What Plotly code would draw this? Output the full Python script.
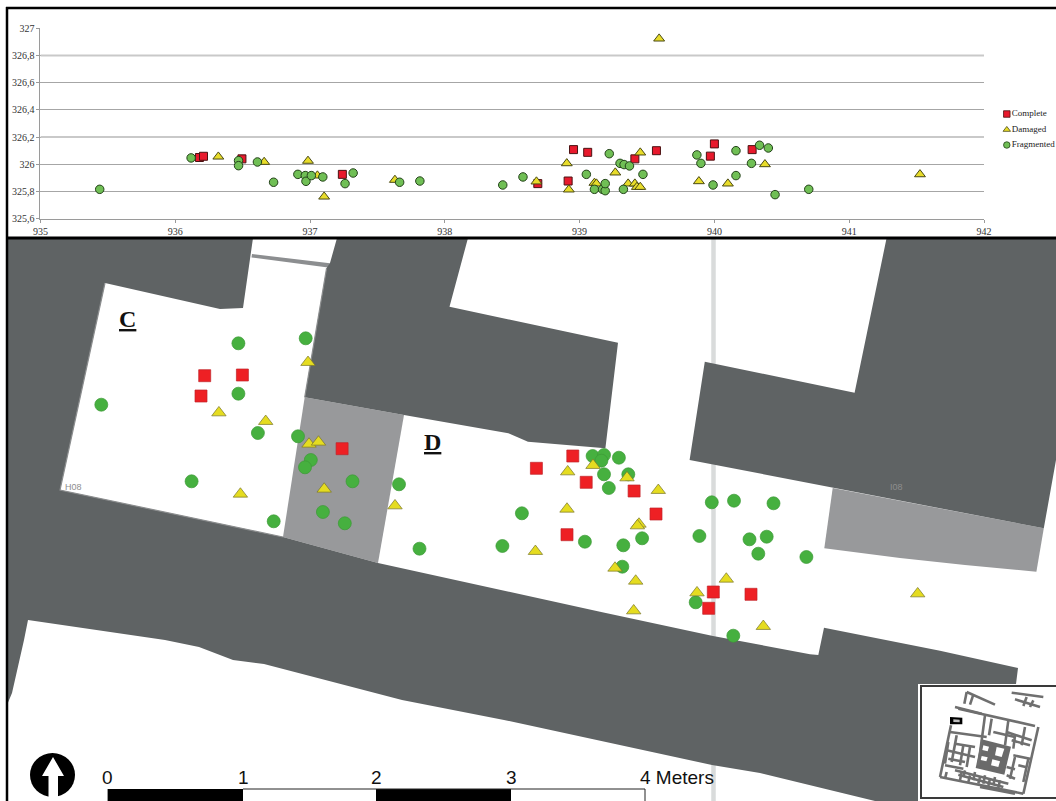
import plotly.graph_objects as go

W, H = 1056, 801

# ---------- elevation chart values ----------
complete_e = [936.18, 936.21, 936.495, 937.24, 938.69, 938.955, 939.06, 938.915, 939.41, 939.57, 939.97, 940.0, 940.28]
complete_z = [326.05, 326.059, 326.04, 325.926, 325.858, 326.108, 326.088, 325.877, 326.04, 326.10, 326.06, 326.15, 326.108]
damaged_e = [936.32, 936.66, 936.985, 937.055, 937.105, 937.63, 939.59, 938.68, 938.905, 938.92, 939.11, 939.125,
             939.265, 939.36, 939.41, 939.425, 939.45, 939.45, 939.885, 940.1, 940.375, 941.525]
damaged_z = [326.056, 326.017, 326.025, 325.917, 325.762, 325.885, 326.924, 325.873, 326.007, 325.814, 325.863, 325.858,
             325.939, 325.858, 325.858, 325.833, 325.833, 326.086, 325.875, 325.858, 326.0, 325.926]
fragmented_e = [935.44, 936.118, 936.47, 936.47, 936.61, 936.73, 936.91, 936.965, 936.97, 937.01, 937.095, 937.26,
                937.32, 937.665, 937.815, 938.43, 938.58, 939.05, 939.11, 939.17, 939.19, 939.19, 939.22, 939.30,
                939.33, 939.37, 939.325, 939.47, 939.87, 939.90, 939.99, 940.16, 940.16, 940.275, 940.335, 940.40,
                940.45, 940.70]
fragmented_z = [325.816, 326.047, 326.027, 325.99, 326.017, 325.868, 325.926, 325.917, 325.875, 325.917, 325.907, 325.858,
                325.936, 325.868, 325.877, 325.848, 325.907, 325.926, 325.816, 325.816, 325.806, 325.858, 326.078, 326.007,
                325.998, 325.988, 325.816, 325.926, 326.069, 326.007, 325.848, 326.10, 325.917, 326.007, 326.14, 326.12,
                325.777, 325.816]

x_ticks = [935, 936, 937, 938, 939, 940, 941, 942]
y_ticks = [325.6, 325.8, 326, 326.2, 326.4, 326.6, 326.8, 327]
y_tick_labels = ["325,6", "325,8", "326", "326,2", "326,4", "326,6", "326,8", "327"]
soft_grid = [326.2, 326.8]

# ---------- plan view values (map units) ----------
complete_mx = [204.7, 242.4, 201, 342.1, 536.4, 572.8, 586.2, 634.1, 656, 567, 713.3, 708.7, 751]
complete_my = [375.7, 375, 396, 448.7, 468.3, 456, 482.3, 491, 514, 534.7, 592, 608.3, 594.3]
damaged_mx = [308, 218.9, 265.7, 309, 318.5, 324.2, 240.4, 395, 567.7, 593, 627, 658.3, 567, 639, 637.4, 535.4,
              615, 635.7, 633.7, 697, 726.3, 763.3, 917.7]
damaged_my = [362.3, 412.7, 421.3, 444, 442, 489, 494, 505.7, 471.7, 465.3, 477.7, 490.3, 509, 524, 525.7, 551.3,
              568, 581, 610.7, 592.7, 579, 626.3, 593.7]
fragmented_mx = [101.3, 238.4, 305.7, 238.4, 257.9, 298, 310.8, 305, 352.5, 191.6, 273.7, 322.9, 344.8, 399, 419.5,
                 502.4, 521.9, 592.6, 604, 601.4, 618.9, 604, 628.3, 608.8, 584.9, 623.3, 642.1, 622.3, 711.8, 734,
                 773.5, 699.4, 749.5, 766.7, 758.3, 806.4, 695.7, 733.3]
fragmented_my = [404.7, 343.3, 338.3, 393.7, 433, 436.3, 460, 467.3, 481.3, 481.3, 521.3, 512, 523.3, 484.3, 548.7,
                 546, 513.3, 456, 455, 460.7, 457.7, 474.3, 474.3, 488, 541.7, 545.3, 538.3, 566.7, 502.3, 500.7,
                 503.3, 536, 539.3, 536.7, 553.7, 557, 602.3, 635.7]

scale_labels = ["0", "1", "2", "3", "4 Meters"]

# ---------- plan geometry ----------
DARK, ROOM = "#5f6364", "#98999b"
walls_west = [(7, 238), (253, 238), (243, 308), (220, 309), (105, 283), (60, 490), (283, 537), (378, 563), (600, 611.7),
              (713, 636), (810, 654.3), (818.3, 655), (824, 627.7), (940, 650.7), (1018, 668), (1016, 684), (918, 684),
              (918, 801), (875, 801), (760, 773), (712, 765), (504, 720), (402, 700), (264, 664), (233, 660), (199, 647),
              (165, 640), (28, 620), (24, 640), (12, 693), (7, 705)]
walls_mid = [(337, 238), (468, 238), (449.5, 306.7), (618, 342.7), (605.4, 448.3), (528, 441.7), (508.4, 433.3),
             (404, 415), (304.7, 397.3), (326.6, 268), (330, 263)]
walls_east = [(886.6, 238), (1056, 238), (1056, 460), (1043.8, 528.3), (689.6, 460), (704.8, 361.7), (854.6, 392.7)]
room_mid = [(304.7, 397.3), (404, 415), (378, 563), (283, 537)]
room_east = [(832.7, 488), (1043.8, 528.3), (1036.4, 571.7), (965, 565), (900, 558), (824.3, 548.3)]
strip = [(252, 254), (330, 263.3), (328, 267.5), (251.5, 257.5)]

# key-plan wall lines, in pixels of the key-plan crop
key_walls = [
    [(130, 80), (360, 132)], [(108, 130), (75, 285)], [(75, 285), (325, 335)], [(325, 335), (370, 135)],
    [(105, 150), (215, 165)], [(125, 160), (110, 240)], [(210, 100), (190, 250)], [(230, 110), (222, 160)],
    [(275, 150), (350, 175)], [(280, 115), (270, 190)], [(330, 135), (320, 190)], [(95, 205), (180, 225)],
    [(145, 190), (135, 250)], [(165, 195), (155, 255)], [(90, 250), (145, 260)], [(120, 265), (280, 305)],
    [(130, 278), (265, 315)], [(150, 265), (145, 285)], [(180, 270), (175, 295)], [(210, 280), (205, 305)],
    [(240, 285), (235, 310)], [(295, 220), (345, 230)], [(300, 225), (285, 290)], [(340, 230), (325, 300)],
    [(275, 255), (300, 262)], [(275, 280), (300, 290)], [(155, 30), (148, 65)], [(155, 30), (240, 68)],
    [(175, 38), (165, 68)], [(290, 32), (385, 45)], [(300, 52), (375, 75)], [(335, 45), (325, 72)],
    [(355, 55), (345, 75)], [(95, 270), (90, 290)], [(195, 315), (300, 335)], [(100, 180), (90, 245)],
    [(235, 150), (300, 165)], [(300, 160), (295, 200)], [(120, 185), (180, 195)], [(100, 230), (150, 240)],
    [(165, 280), (160, 300)], [(195, 285), (190, 305)], [(225, 290), (220, 312)], [(255, 295), (250, 318)],
    [(290, 175), (345, 190)], [(310, 250), (335, 256)], [(120, 75), (200, 95)], [(140, 270), (135, 295)],
]
key_block = [(200, 172), (288, 194), (268, 278), (182, 258)]
key_rooms = [[(205, 190), (222, 194), (218, 208), (202, 204)], [(245, 195), (268, 200), (260, 225), (240, 220)],
             [(200, 222), (218, 226), (214, 238), (197, 234)], [(232, 232), (255, 238), (250, 255), (228, 250)]]
key_mark = [(105, 105), (142, 107), (142, 127), (105, 127)]


def poly(points):
    return "M " + " L ".join(f"{a},{b}" for a, b in points) + " Z"


def line(points):
    return "M " + " L ".join(f"{a},{b}" for a, b in points)


def key(points):
    return [(915 + a / 3, 682 + b / 3) for a, b in points]


def shape(path, fill=None, color=None, width=0):
    return dict(type="path", path=path, xref="x2", yref="y2", layer="below",
                fillcolor=fill or "rgba(0,0,0,0)",
                line=dict(color=color or "rgba(0,0,0,0)", width=width))


shapes = [
    shape(line([(713.5, 238), (713.5, 801)]), color="#d9dbdb", width=4.5),
    shape(poly(room_mid), fill=ROOM),
    shape(poly(room_east), fill=ROOM),
    shape(poly(strip), fill="#8c8e90"),
    shape(poly(walls_west), fill=DARK),
    shape(poly(walls_mid), fill=DARK),
    shape(poly(walls_east), fill=DARK),
    shape(line([(105, 283), (60, 490), (283, 537)]), color="#8b8d8e", width=1.2),
    shape(line([(326.6, 268), (304.7, 397.3)]), color="#8b8d8e", width=1.2),
    # scale bar
    shape(poly([(107.6, 789), (243, 789), (243, 801), (107.6, 801)]), fill="#000000"),
    shape(poly([(376, 789), (511, 789), (511, 801), (376, 801)]), fill="#000000"),
    shape(line([(243, 789), (645, 789), (645, 801)]), color="#222222", width=1),
    # north arrow
    dict(type="circle", xref="x2", yref="y2", layer="below", x0=30, x1=75, y0=753, y1=797,
         fillcolor="#000000", line=dict(width=0)),
    shape(poly([(53, 757), (64, 776), (58, 776), (58, 798), (48.5, 798), (48.5, 776), (42, 776)]), fill="#ffffff"),
    # key plan
    shape(poly([(918, 684), (1056, 684), (1056, 801), (918, 801)]), fill="#ffffff"),
    shape(line([(1056, 686), (921, 686), (921, 798), (1056, 798)]), color="#3a3a3a", width=2),
    shape(poly(key(key_block)), fill="#6a6a6a"),
]
shapes += [shape(poly(key(r)), fill="#ffffff") for r in key_rooms]
shapes += [shape(line(key(w)), color="#6f6f6f", width=2.6) for w in key_walls]
shapes += [
    shape(poly(key(key_mark)), fill="#000000"),
    shape(poly(key([(115, 112), (134, 113), (134, 121), (115, 120)])), fill="#bdbdbd"),
    # black frames
    shape(line([(6, 8), (1056, 8)]), color="#000000", width=2.5),
    shape(line([(6, 238), (1056, 238)]), color="#000000", width=3),
    shape(line([(7, 7), (7, 801)]), color="#000000", width=2.5),
]
for level in soft_grid:
    shapes.append(dict(type="line", xref="x", yref="y", x0=x_ticks[0], x1=x_ticks[-1], y0=level, y1=level,
                       layer="above", line=dict(color="#c9c9c9", width=2)))

fig = go.Figure()

top_series = [
    ("Complete", complete_e, complete_z, "square", "#e8192c", 8, "#4a1212"),
    ("Damaged", damaged_e, damaged_z, "triangle-up", "#e8dc2a", 9.5, "#4a4a14"),
    ("Fragmented", fragmented_e, fragmented_z, "circle", "#70bf55", 8.5, "#24421a"),
]
for name, xs, ys, sym, col, size, edge in top_series:
    fig.add_trace(go.Scatter(x=xs, y=ys, mode="markers", name=name, showlegend=False, xaxis="x", yaxis="y",
                             marker=dict(symbol=sym, color=col, size=size, line=dict(color=edge, width=1))))

map_series = [
    ("Fragmented", fragmented_mx, fragmented_my, "circle", "#46b03f", 13, "#3c9a37"),
    ("Complete", complete_mx, complete_my, "square", "#ee2024", 12, "#c0242a"),
    ("Damaged", damaged_mx, damaged_my, "triangle-up", "#e5dc20", 12.5, "#77742a"),
]
for name, xs, ys, sym, col, size, edge in map_series:
    fig.add_trace(go.Scatter(x=xs, y=ys, mode="markers", name=name, showlegend=False, xaxis="x2", yaxis="y2",
                             marker=dict(symbol=sym, color=col, size=size, line=dict(color=edge, width=0.7))))

# key of the chart
for (name, _, _, sym, col, _, edge), ky in zip(top_series, [114, 129.7, 145]):
    fig.add_trace(go.Scatter(x=[1006.8], y=[ky], mode="markers+text", text=[name], textposition="middle right",
                             textfont=dict(family="Liberation Serif", size=9, color="#222222"),
                             name=name, showlegend=False, xaxis="x2", yaxis="y2", cliponaxis=False,
                             marker=dict(symbol=sym, color=col, size=6.5, line=dict(color=edge, width=0.8))))

annotations = [
    dict(x=127, y=319, text="<b><u>C</u></b>", font=dict(family="Liberation Serif", size=24, color="#111111")),
    dict(x=432.7, y=442, text="<b><u>D</u></b>", font=dict(family="Liberation Serif", size=24, color="#111111")),
    dict(x=73, y=486.5, text="H08", font=dict(family="Liberation Sans", size=9, color="#8e8e8e")),
    dict(x=896, y=486.5, text="I08", font=dict(family="Liberation Sans", size=9, color="#8e8e8e")),
]
for label, sx in zip(scale_labels, [107.6, 243, 376, 511, 677]):
    annotations.append(dict(x=sx, y=777, text=label, font=dict(family="Liberation Sans", size=19, color="#111111")))
for a in annotations:
    a.update(xref="x2", yref="y2", showarrow=False, xanchor="center", yanchor="middle")

tick_font = dict(family="Liberation Serif", size=10, color="#333333")
fig.update_layout(
    template="none",
    width=W, height=H, autosize=False, margin=dict(l=0, r=0, t=0, b=0, pad=0, autoexpand=False),
    paper_bgcolor="#ffffff", plot_bgcolor="rgba(0,0,0,0)", showlegend=False,
    shapes=shapes, annotations=annotations,
    xaxis=dict(domain=[40.4 / W, 984 / W], range=[935, 942], tickvals=x_ticks, ticktext=[str(v) for v in x_ticks],
               automargin=False, showgrid=False, zeroline=False, showline=True, linecolor="#9a9a9a", linewidth=1,
               ticks="outside", ticklen=3, tickcolor="#9a9a9a", tickfont=tick_font, anchor="y"),
    yaxis=dict(domain=[1 - 218.7 / H, 1 - 28.3 / H], range=[325.6, 327], tickvals=y_ticks, ticktext=y_tick_labels,
               automargin=False, showgrid=True, gridcolor="#a6a6a6", gridwidth=1, zeroline=False, showline=True,
               linecolor="#9a9a9a", linewidth=1, ticks="outside", ticklen=3, tickcolor="#9a9a9a",
               tickfont=tick_font, anchor="x"),
    xaxis2=dict(domain=[0, 1], range=[0, W], visible=False, automargin=False, anchor="y2"),
    yaxis2=dict(domain=[0, 1], range=[H, 0], visible=False, automargin=False, anchor="x2"),
)

fig.write_html("out.html", config=dict(displayModeBar=False),
               post_script="document.body.style.margin='0';document.body.style.overflow='hidden';")
